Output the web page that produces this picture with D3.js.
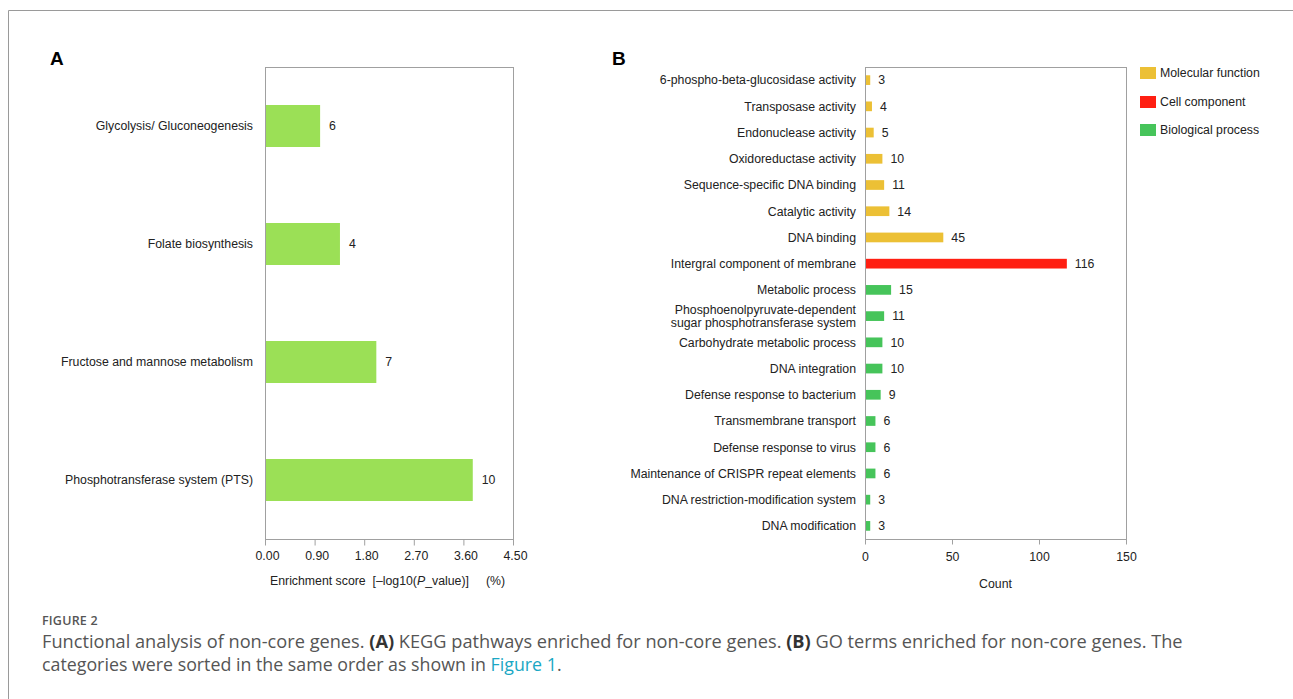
<!DOCTYPE html>
<html><head><meta charset="utf-8">
<script src="https://cdn.jsdelivr.net/npm/d3@7"></script>
<style>
html,body{margin:0;padding:0;background:#fff;}
svg{display:block;}
</style></head>
<body>
<svg id="chart" width="1293" height="699"></svg>
<script>
// ---------- DATA ----------
const catsA = ["Glycolysis/ Gluconeogenesis", "Folate biosynthesis", "Fructose and mannose metabolism", "Phosphotransferase system (PTS)"];
const scoresA = [1.00, 1.36, 2.02, 3.77];
const countsA = [6, 4, 7, 10];
const ticksA = [0, 0.9, 1.8, 2.7, 3.6, 4.5];

const catsB = [
  "6-phospho-beta-glucosidase activity", "Transposase activity", "Endonuclease activity",
  "Oxidoreductase activity", "Sequence-specific DNA binding", "Catalytic activity", "DNA binding",
  "Intergral component of  membrane",
  "Metabolic process", "Phosphoenolpyruvate-dependent\nsugar phosphotransferase system",
  "Carbohydrate metabolic process", "DNA integration", "Defense response to bacterium",
  "Transmembrane transport", "Defense response to virus", "Maintenance of CRISPR repeat elements",
  "DNA restriction-modification system", "DNA modification"
];
const countsB = [3, 4, 5, 10, 11, 14, 45, 116, 15, 11, 10, 10, 9, 6, 6, 6, 3, 3];
const groupsB = ["Molecular function","Molecular function","Molecular function","Molecular function",
  "Molecular function","Molecular function","Molecular function","Cell component",
  "Biological process","Biological process","Biological process","Biological process",
  "Biological process","Biological process","Biological process","Biological process",
  "Biological process","Biological process"];
const legendLabels = ["Molecular function", "Cell component", "Biological process"];
const ticksB = [0, 50, 100, 150];

// ---------- STYLE ----------
const FONT = "'Liberation Sans', Arial, sans-serif";
const FS = 12.3;
const TXT = "#222";
const AXC = "#a0a0a0";
const greenA = "#9be056";
const groupColor = d3.scaleOrdinal().domain(legendLabels).range(["#ecc035", "#ff1f12", "#46c45a"]);

const svg = d3.select("#chart");

// outer frame
svg.append("path").attr("d", "M8.5,700 V10.5 H1300")
  .attr("fill", "none").attr("stroke", "#9a9a9a").attr("stroke-width", 1);

// panel letters
svg.append("text").attr("x", 50).attr("y", 65).text("A")
  .attr("font-family", FONT).attr("font-weight", "bold").attr("font-size", 19).attr("fill", "#000");
svg.append("text").attr("x", 612).attr("y", 65).text("B")
  .attr("font-family", FONT).attr("font-weight", "bold").attr("font-size", 19).attr("fill", "#000");

// ---------- PANEL A ----------
const A = {x0: 265, x1: 513, y0: 67, y1: 539};
const xA = d3.scaleLinear().domain([0, 4.5]).range([A.x0, A.x1]);
const yA = d3.scaleBand().domain(catsA).range([A.y0, A.y1]).paddingInner(0.644).paddingOuter(0.322);
const gA = svg.append("g");

gA.selectAll("rect.bar").data(catsA).join("rect").attr("class", "bar")
  .attr("x", xA(0)).attr("y", d => yA(d))
  .attr("width", (d, i) => xA(scoresA[i]) - xA(0)).attr("height", yA.bandwidth())
  .attr("fill", greenA);

gA.append("rect").attr("x", A.x0 + 0.5).attr("y", A.y0 + 0.5)
  .attr("width", A.x1 - A.x0).attr("height", A.y1 - A.y0)
  .attr("fill", "none").attr("stroke", AXC);

gA.selectAll("text.val").data(catsA).join("text").attr("class", "val")
  .attr("x", (d, i) => xA(scoresA[i]) + 9).attr("y", d => yA(d) + yA.bandwidth() / 2)
  .attr("dy", "0.35em").text((d, i) => countsA[i])
  .attr("font-family", FONT).attr("font-size", FS).attr("fill", TXT);

gA.selectAll("text.cat").data(catsA).join("text").attr("class", "cat")
  .attr("x", A.x0 - 12).attr("y", d => yA(d) + yA.bandwidth() / 2)
  .attr("dy", "0.35em").attr("text-anchor", "end").text(d => d)
  .attr("font-family", FONT).attr("font-size", FS).attr("fill", TXT);

const axA = gA.append("g").attr("transform", `translate(0,${A.y1 + 0.5})`)
  .call(d3.axisBottom(xA).tickValues(ticksA).tickFormat(d3.format(".2f")).tickSize(6).tickPadding(6));
axA.select(".domain").remove();
axA.selectAll("line").attr("stroke", AXC);
axA.selectAll("text").attr("font-family", FONT).attr("font-size", FS).attr("fill", TXT).attr("dx", 2);

const tA = gA.append("text").attr("x", 270).attr("y", 585)
  .attr("font-family", FONT).attr("font-size", FS).attr("fill", TXT).attr("xml:space", "preserve");
tA.append("tspan").text("Enrichment score  [\u2013log10(");
tA.append("tspan").attr("font-style", "italic").text("P");
tA.append("tspan").text("_value)]     (%)");

// ---------- PANEL B ----------
const B = {x0: 865, x1: 1126, y0: 67, y1: 539};
const xB = d3.scaleLinear().domain([0, 150]).range([B.x0, B.x1]);
const yB = d3.scaleBand().domain(catsB).range([B.y0, B.y1]).paddingInner(0.63).paddingOuter(0.315);
const gB = svg.append("g");

gB.selectAll("rect.bar").data(catsB).join("rect").attr("class", "bar")
  .attr("x", xB(0)).attr("y", d => yB(d))
  .attr("width", (d, i) => xB(countsB[i]) - xB(0)).attr("height", yB.bandwidth())
  .attr("fill", (d, i) => groupColor(groupsB[i]));

gB.append("rect").attr("x", B.x0 + 0.5).attr("y", B.y0 + 0.5)
  .attr("width", B.x1 - B.x0).attr("height", B.y1 - B.y0)
  .attr("fill", "none").attr("stroke", AXC);

gB.selectAll("text.val").data(catsB).join("text").attr("class", "val")
  .attr("x", (d, i) => xB(countsB[i]) + 8).attr("y", d => yB(d) + yB.bandwidth() / 2)
  .attr("dy", "0.35em").text((d, i) => countsB[i])
  .attr("font-family", FONT).attr("font-size", FS).attr("fill", TXT);

gB.selectAll("text.cat").data(catsB).join("text").attr("class", "cat")
  .attr("x", B.x0 - 9).attr("y", d => yB(d) + yB.bandwidth() / 2)
  .attr("text-anchor", "end")
  .attr("font-family", FONT).attr("font-size", FS).attr("fill", TXT)
  .each(function(d) {
    const lines = d.split("\n");
    const el = d3.select(this);
    lines.forEach((ln, k) => {
      el.append("tspan").attr("x", B.x0 - 9)
        .attr("dy", k === 0 ? `${0.35 - (lines.length - 1) * 0.52}em` : "1.04em")
        .text(ln);
    });
  });

const axB = gB.append("g").attr("transform", `translate(0,${B.y1 + 0.5})`)
  .call(d3.axisBottom(xB).tickValues(ticksB).tickSize(5).tickPadding(8));
axB.select(".domain").remove();
axB.selectAll("line").attr("stroke", AXC);
axB.selectAll("text").attr("font-family", FONT).attr("font-size", FS).attr("fill", TXT);

gB.append("text").attr("x", (B.x0 + B.x1) / 2).attr("y", 588).attr("text-anchor", "middle")
  .text("Count").attr("font-family", FONT).attr("font-size", FS).attr("fill", TXT);

// legend
const lg = svg.append("g").attr("transform", "translate(1140,67)");
const li = lg.selectAll("g").data(legendLabels).join("g")
  .attr("transform", (d, i) => `translate(0,${[0, 29, 57][i]})`);
li.append("rect").attr("width", 16).attr("height", 12).attr("fill", d => groupColor(d));
li.append("text").attr("x", 20).attr("y", 6).attr("dy", "0.35em").text(d => d)
  .attr("font-family", FONT).attr("font-size", FS).attr("fill", TXT);

// ---------- CAPTION ----------
const CF = "'Open Sans', 'Noto Sans', sans-serif";
const capG = svg.append("g").attr("font-family", CF);
capG.append("text").attr("x", 42).attr("y", 625).text("FIGURE 2")
  .attr("font-size", 12.5).attr("font-weight", 600).attr("fill", "#555").attr("letter-spacing", "0.2");

const l1 = capG.append("text").attr("x", 42).attr("y", 648).attr("font-size", 16).attr("fill", "#555");
l1.append("tspan").text("Functional analysis of non-core genes. ");
l1.append("tspan").attr("font-weight", "bold").attr("fill", "#333").text("(A)");
l1.append("tspan").text(" KEGG pathways enriched for non-core genes. ");
l1.append("tspan").attr("font-weight", "bold").attr("fill", "#333").text("(B)");
l1.append("tspan").text(" GO terms enriched for non-core genes. The");

const l2 = capG.append("text").attr("x", 42).attr("y", 671).attr("font-size", 16).attr("fill", "#555");
l2.append("tspan").text("categories were sorted in the same order as shown in ");
l2.append("tspan").attr("fill", "#1aa7c4").text("Figure 1");
l2.append("tspan").text(".");

// fit caption line widths to reference
[[l1, 1141], [l2, 520]].forEach(([t, w]) => {
  const len = t.node().getComputedTextLength();
  t.attr("font-size", 16 * w / len);
});
</script>
</body></html>
